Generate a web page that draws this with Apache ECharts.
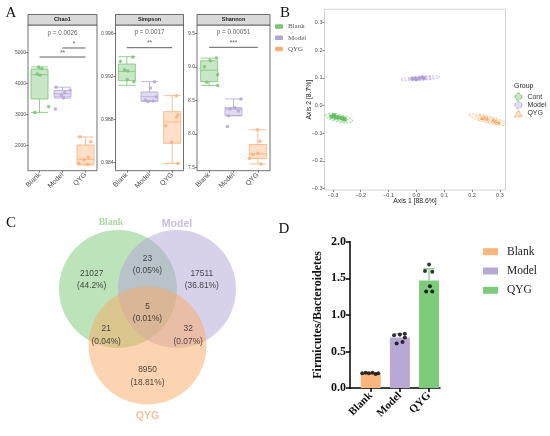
<!DOCTYPE html>
<html><head><meta charset="utf-8">
<script src="https://cdn.jsdelivr.net/npm/echarts@6/dist/echarts.min.js"></script>
<style>html,body{margin:0;padding:0;background:#fff}#c{width:550px;height:436px}</style>
</head><body><div id="c"></div>
<script>
const SANS = 'Liberation Sans, Arial, sans-serif';
const SERIF = 'Liberation Serif, Times New Roman, serif';

// ---------- Panel A : alpha diversity ----------
const groups = ['Blank', 'Model', 'QYG'];
const groupColors = ['#78c474', '#b3a4d8', '#fbb07a'];
const groupFills = ['rgba(120,196,116,0.40)', 'rgba(179,164,216,0.40)', 'rgba(251,176,122,0.40)'];
const facetNames = ['Chao1', 'Simpson', 'Shannon'];
// [min, Q1, median, Q3, max]
const chao1Box = [[3070, 3500, 4280, 4460, 4530], [3530, 3565, 3668, 3775, 3880], [1380, 1412, 1560, 2023, 2280]];
const simpsonBox = [[0.99116, 0.99159, 0.99246, 0.99314, 0.99382], [0.98965, 0.98973, 0.99010, 0.99054, 0.99150], [0.98390, 0.98577, 0.98775, 0.98871, 0.99020]];
const shannonBox = [[8.72, 8.78, 8.95, 9.09, 9.13], [8.27, 8.27, 8.37, 8.39, 8.52], [7.55, 7.63, 7.70, 7.84, 8.06]];
// [value, jitter]
const chao1Pts = [
  [[4530, -0.05], [4480, 0.1], [4300, -0.1], [4260, 0.02], [3250, 0.4], [3070, -0.2]],
  [[3880, -0.28], [3790, 0.33], [3700, 0.1], [3620, -0.05], [3530, 0.05], [3180, -0.31]],
  [[2289, -0.24], [2128, 0.23], [1627, 0.12], [1550, -0.05], [1435, -0.3], [1390, 0.1]]
];
const simpsonPts = [
  [[0.9938, 0.26], [0.9934, -0.28], [0.9926, -0.1], [0.9925, 0.04], [0.9917, 0.02], [0.9915, 0.31]],
  [[0.9915, 0.22], [0.9909, 0.04], [0.9901, 0.3], [0.9898, -0.18], [0.9897, 0.16], [0.98965, -0.07]],
  [[0.9902, 0.19], [0.9884, 0.25], [0.9882, 0.19], [0.9874, -0.28], [0.9859, -0.02], [0.9839, 0.25]]
];
const shannonPts = [
  [[9.13, 0.3], [9.09, 0.05], [9.0, -0.2], [8.88, 0.35], [8.77, -0.1], [8.72, 0.35]],
  [[8.52, 0.31], [8.39, 0.06], [8.37, -0.14], [8.34, 0.2], [8.27, -0.2], [8.11, -0.25]],
  [[8.06, -0.02], [7.89, 0.09], [7.71, 0.0], [7.69, -0.2], [7.63, -0.35], [7.55, 0.13]]
];
const facetMin = [1197, 0.98322, 7.449];
const facetMax = [5877, 0.99677, 9.624];
const facetTicks = [[2000, 3000, 4000, 5000], [0.984, 0.988, 0.992, 0.996], [7.5, 8.0, 8.5, 9.0, 9.5]];
const facetDigits = [0, 3, 1];
const pLabels = ['p = 0.0026', 'p = 0.0017', 'p = 0.00051'];
const pLabelY = [5623, 0.99606, 9.509];
// brackets per facet: [from, to, level, mark]
const sigBrackets = [
  [[1, 2, 5139, '*'], [0, 2, 4848, '**']],
  [[0, 2, 0.99466, '**']],
  [[0, 2, 9.291, '***']]
];

// ---------- Panel B : PCoA ----------
const pcoaGroups = ['Cont', 'Model', 'QYG'];
const pcoaColors = ['#5fba5b', '#ad9bd6', '#f8a45a'];
const pcoaFills = ['rgba(95,186,91,0.12)', 'rgba(173,155,214,0.12)', 'rgba(248,164,90,0.12)'];
const pcoaSymbols = ['rect', 'circle', 'triangle'];
const contPts = [[-0.305, -0.040], [-0.296, -0.036], [-0.29, -0.043], [-0.278, -0.044], [-0.266, -0.046], [-0.258, -0.05]];
const modelPts = [[-0.015, 0.096], [-0.005, 0.097], [0.01, 0.098], [0.02, 0.101], [0.028, 0.099], [0.0, 0.095]];
const qygPts = [[0.235, -0.045], [0.245, -0.043], [0.255, -0.048], [0.275, -0.053], [0.285, -0.057], [0.295, -0.061]];
// [cx, cy, rx, ry, angleDeg, group]
const pcoaEllipses = [
  [-0.278, -0.046, 0.05, 0.014, -12, 0], [-0.278, -0.046, 0.032, 0.009, -12, 0],
  [0.015, 0.098, 0.07, 0.008, 4, 1], [0.015, 0.098, 0.045, 0.005, 4, 1],
  [0.258, -0.051, 0.072, 0.012, -14, 2], [0.258, -0.051, 0.046, 0.008, -14, 2]
];
const pcoaTicks = [-0.3, -0.2, -0.1, 0, 0.1, 0.2, 0.3];

// ---------- Panel C : Venn ----------
const vennSets = ['Blank', 'Model', 'QYG'];
const vennCenters = [[-0.5, 0], [0.5, 0], [0, -0.958]];
const vennRadius = 1;
const vennFills = ['rgba(108,192,104,0.45)', 'rgba(178,164,214,0.50)', 'rgba(252,170,100,0.50)'];
const vennTitleColors = ['#8ed08a', '#b9acd9', '#f7b27a'];
const vennTitlePos = [[-0.62, 1.12], [0.5, 1.10], [0, -2.15]];
const vennCounts = [21027, 23, 17511, 5, 21, 32, 8950];
const vennPcts = ['44.2%', '0.05%', '36.81%', '0.01%', '0.04%', '0.07%', '18.81%'];
const vennLabelPos = [[-0.946, 0.161], [0, 0.415], [0.92, 0.161], [0, -0.40], [-0.70, -0.78], [0.69, -0.78], [0, -1.48]];

// ---------- Panel D : F/B ratio ----------
const barCats = ['Blank', 'Model', 'QYG'];
const barColors = ['#fbb57f', '#b9a7d6', '#7fcb7c'];
const barMeans = [0.20, 0.69, 1.47];
const barSD = [0.01, 0.05, 0.16];
const barDots = [
  [[0.20, -0.29], [0.21, -0.17], [0.20, -0.06], [0.21, 0.06], [0.19, 0.17], [0.20, 0.26]],
  [[0.72, -0.2], [0.73, 0.0], [0.74, 0.17], [0.61, -0.11], [0.63, 0.09], [0.69, 0.17]],
  [[1.69, 0.0], [1.60, -0.14], [1.59, 0.11], [1.39, 0.03], [1.32, -0.1], [1.32, 0.11]]
];

// ---------- layout ----------
const facetLeft = [28, 115.5, 197];
const facetWidth = [69, 68, 73];
const facetBoxes = [chao1Box, simpsonBox, shannonBox];
const facetPts = [chao1Pts, simpsonPts, shannonPts];

const grids = [], xAxes = [], yAxes = [], series = [], graphics = [];
const minusFmt = v => (v < 0 ? '\u2212' : '') + Math.abs(v).toFixed(1);

for (let f = 0; f < 3; f++) {
  grids.push({left: facetLeft[f], top: 25, width: facetWidth[f], height: 145.7, show: true,
    borderColor: '#4d4d4d', borderWidth: 0.8, backgroundColor: '#fff'});
  xAxes.push({type: 'category', gridIndex: f, data: groups,
    axisLine: {show: false, onZero: false},
    axisTick: {show: true, alignWithLabel: true, length: 2, lineStyle: {color: '#333', width: 0.6}},
    axisLabel: {rotate: 45, fontSize: 7, color: '#4d4d4d', margin: 3, fontFamily: SANS},
    splitLine: {show: false}});
  xAxes.push({type: 'value', gridIndex: f, min: -0.5, max: 2.5, show: false, axisLine: {onZero: false}});
  const dg = facetDigits[f];
  yAxes.push({type: 'value', gridIndex: f, min: facetMin[f], max: facetMax[f],
    axisLine: {show: false, onZero: false},
    axisTick: {show: true, length: 2, customValues: facetTicks[f], lineStyle: {color: '#333', width: 0.6}},
    axisLabel: {customValues: facetTicks[f], formatter: v => v.toFixed(dg), fontSize: 5, color: '#4d4d4d', margin: 2, fontFamily: SANS},
    splitLine: {show: false}});
  series.push({type: 'boxplot', xAxisIndex: 2 * f, yAxisIndex: f, boxWidth: [17, 17], silent: true, z: 2,
    data: facetBoxes[f].map((b, i) => ({value: b, itemStyle: {color: groupFills[i], borderColor: groupColors[i], borderWidth: 0.8}}))});
  for (let g = 0; g < 3; g++) {
    series.push({type: 'scatter', name: groups[g], xAxisIndex: 2 * f + 1, yAxisIndex: f, symbolSize: 3.5, silent: true, z: 3,
      itemStyle: {color: groupColors[g], opacity: 0.85},
      data: facetPts[f][g].map(p => [g + p[1], p[0]])});
  }
  sigBrackets[f].forEach(br => {
    series.push({type: 'line', xAxisIndex: 2 * f + 1, yAxisIndex: f, symbol: 'none', silent: true, z: 4,
      lineStyle: {color: '#4d4d4d', width: 0.9}, data: [[br[0], br[2]], [br[1], br[2]]]});
    series.push({type: 'scatter', xAxisIndex: 2 * f + 1, yAxisIndex: f, symbolSize: 1, silent: true, z: 4,
      itemStyle: {color: 'rgba(0,0,0,0)'},
      label: {show: true, position: 'top', distance: 0, formatter: br[3], fontSize: 6.5, color: '#333', fontFamily: SANS},
      data: [[(br[0] + br[1]) / 2, br[2]]]});
  });
  series.push({type: 'scatter', xAxisIndex: 2 * f + 1, yAxisIndex: f, symbolSize: 1, silent: true, z: 4,
    itemStyle: {color: 'rgba(0,0,0,0)'},
    label: {show: true, position: 'inside', formatter: pLabels[f], fontSize: 6.3, color: '#333', fontFamily: SANS},
    data: [[1, pLabelY[f]]]});
  graphics.push({type: 'rect', shape: {x: facetLeft[f], y: 14.5, width: facetWidth[f], height: 10.5},
    style: {fill: '#d9d9d9', stroke: '#4d4d4d', lineWidth: 0.8}, silent: true});
  graphics.push({type: 'text', x: facetLeft[f] + facetWidth[f] / 2, y: 19.8,
    style: {text: facetNames[f], fontSize: 5.5, fontWeight: 'bold', fontFamily: SANS, fill: '#1a1a1a', align: 'center', verticalAlign: 'middle'}});
}

// Panel B grid (index 3)
grids.push({left: 324.5, top: 9.3, width: 181, height: 180.7, show: true, borderColor: '#c8c8c8', borderWidth: 0.8, backgroundColor: '#fff'});
xAxes.push({type: 'value', gridIndex: 3, min: -0.33, max: 0.32,
  axisLine: {show: false, onZero: false},
  axisTick: {show: true, length: 2, customValues: pcoaTicks, lineStyle: {color: '#333', width: 0.6}},
  axisLabel: {customValues: pcoaTicks, formatter: minusFmt, fontSize: 5.5, color: '#4d4d4d', margin: 2, fontFamily: SANS},
  splitLine: {show: false},
  name: 'Axis 1 [88.6%]', nameLocation: 'middle', nameGap: 8, nameMoveOverlap: false,
  nameTextStyle: {fontSize: 6.8, color: '#222', fontFamily: SANS}});
yAxes.push({type: 'value', gridIndex: 3, min: -0.305, max: 0.347,
  axisLine: {show: false, onZero: false},
  axisTick: {show: true, length: 2, customValues: pcoaTicks, lineStyle: {color: '#333', width: 0.6}},
  axisLabel: {customValues: pcoaTicks, formatter: minusFmt, fontSize: 5.5, color: '#4d4d4d', margin: 2, fontFamily: SANS},
  splitLine: {show: false},
  name: 'Axis 2 [8.7%]', nameLocation: 'middle', nameGap: 12, nameMoveOverlap: false,
  nameTextStyle: {fontSize: 6.8, color: '#222', fontFamily: SANS}});
series.push({type: 'custom', xAxisIndex: 6, yAxisIndex: 3, clip: true, silent: true, z: 2,
  data: pcoaEllipses,
  renderItem: function (params, api) {
    const c = api.coord([api.value(0), api.value(1)]);
    const rx = api.size([api.value(2), 0])[0];
    const ry = api.size([0, api.value(3)])[1];
    const g = api.value(5);
    return {type: 'ellipse', x: c[0], y: c[1], rotation: api.value(4) * Math.PI / 180,
      shape: {cx: 0, cy: 0, rx: rx, ry: ry},
      style: {fill: pcoaFills[g], stroke: pcoaColors[g], lineWidth: 0.7, lineDash: [2, 1.5], opacity: 0.8}};
  }});
[contPts, modelPts, qygPts].forEach((pts, g) => {
  series.push({type: 'scatter', name: pcoaGroups[g], xAxisIndex: 6, yAxisIndex: 3, symbol: pcoaSymbols[g], symbolSize: 4, silent: true, z: 3,
    itemStyle: {color: pcoaColors[g], opacity: 0.9}, data: pts});
});
graphics.push({type: 'text', x: 514, y: 86, style: {text: 'Group', fontSize: 7, fontFamily: SANS, fill: '#222', verticalAlign: 'middle'}});

// Panel C grid (index 4)
grids.push({left: 41.3, top: 206.4, width: 212.4, height: 212.4, show: false});
xAxes.push({type: 'value', gridIndex: 4, min: -1.8, max: 1.8, show: false, axisLine: {onZero: false}});
yAxes.push({type: 'value', gridIndex: 4, min: -2.2, max: 1.4, show: false, axisLine: {onZero: false}});
series.push({type: 'custom', xAxisIndex: 7, yAxisIndex: 4, silent: true, z: 2,
  data: vennCenters.map((c, i) => [c[0], c[1], i]),
  renderItem: function (params, api) {
    const c = api.coord([api.value(0), api.value(1)]);
    const r = api.size([vennRadius, 0])[0];
    return {type: 'circle', shape: {cx: c[0], cy: c[1], r: r}, style: {fill: vennFills[api.value(2)]}};
  }});
series.push({type: 'scatter', xAxisIndex: 7, yAxisIndex: 4, symbolSize: 1, silent: true, z: 5,
  itemStyle: {color: 'rgba(0,0,0,0)'},
  label: {show: true, position: 'inside', fontSize: 8.4, lineHeight: 12.4, color: '#222', fontFamily: SANS},
  data: vennLabelPos.map((p, i) => ({value: p, label: {formatter: vennCounts[i] + '\n(' + vennPcts[i] + ')'}}))});
series.push({type: 'scatter', xAxisIndex: 7, yAxisIndex: 4, symbolSize: 1, silent: true, z: 5,
  itemStyle: {color: 'rgba(0,0,0,0)'},
  data: vennTitlePos.map((p, i) => ({value: p, label: {show: true, position: 'inside', formatter: vennSets[i],
    color: vennTitleColors[i], fontWeight: 'bold', fontSize: i === 0 ? 9.5 : 10.5, fontFamily: i === 0 ? SERIF : SANS}}))});

// Panel D grid (index 5)
grids.push({left: 350, top: 241.7, width: 90, height: 146.3, show: false});
xAxes.push({type: 'value', gridIndex: 5, min: -0.71, max: 2.375,
  axisLine: {show: true, onZero: false, lineStyle: {color: '#000', width: 1.5}},
  axisTick: {show: true, customValues: [0, 1, 2], length: 4, lineStyle: {color: '#000', width: 1.5}},
  axisLabel: {customValues: [0, 1, 2], formatter: v => barCats[Math.round(v)], rotate: 45, fontFamily: SERIF, fontWeight: 'bold', fontSize: 11, color: '#111', margin: 6},
  splitLine: {show: false}});
yAxes.push({type: 'value', gridIndex: 5, min: 0, max: 2, interval: 0.5,
  axisLine: {show: true, onZero: false, lineStyle: {color: '#000', width: 1.5}},
  axisTick: {show: true, length: 4, lineStyle: {color: '#000', width: 1.5}},
  axisLabel: {formatter: v => v.toFixed(1), fontFamily: SERIF, fontWeight: 'bold', fontSize: 12, color: '#111', margin: 4},
  splitLine: {show: false},
  name: 'Firmicutes/Bacteroidetes', nameLocation: 'middle', nameGap: 26, nameMoveOverlap: false,
  nameTextStyle: {fontFamily: SERIF, fontWeight: 'bold', fontSize: 12, color: '#111'}});
series.push({type: 'custom', xAxisIndex: 8, yAxisIndex: 5, silent: true, z: 1,
  data: barMeans.map((m, i) => [i, m, barSD[i], i]),
  renderItem: function (params, api) {
    const i = api.value(0), m = api.value(1), sd = api.value(2);
    const base = api.coord([i, m]), top = api.coord([i, m + sd]);
    const col = barColors[api.value(3)];
    return {type: 'group', children: [
      {type: 'line', shape: {x1: base[0], y1: base[1], x2: top[0], y2: top[1]}, style: {stroke: col, lineWidth: 1.3}},
      {type: 'line', shape: {x1: top[0] - 5.5, y1: top[1], x2: top[0] + 5.5, y2: top[1]}, style: {stroke: col, lineWidth: 1.3}}
    ]};
  }});
series.push({type: 'bar', xAxisIndex: 8, yAxisIndex: 5, barWidth: 20, silent: true, z: 2,
  data: barMeans.map((v, i) => ({value: [i, v], itemStyle: {color: barColors[i]}}))});
series.push({type: 'scatter', xAxisIndex: 8, yAxisIndex: 5, symbolSize: 4, silent: true, z: 3,
  itemStyle: {color: '#000'},
  data: barDots.flatMap((pts, g) => pts.map(p => [g + p[1], p[0]]))});

// panel letters
[['A', 11, 13], ['B', 285, 13], ['C', 11, 223], ['D', 284, 229]].forEach(l => {
  graphics.push({type: 'text', x: l[1], y: l[2], style: {text: l[0], fontSize: 15, fontFamily: SERIF, fill: '#111', align: 'center', verticalAlign: 'middle'}});
});

const option = {
  animation: false,
  backgroundColor: '#fff',
  grid: grids, xAxis: xAxes, yAxis: yAxes, series: series, graphic: graphics,
  legend: [
    {left: 275, top: 22.5, padding: 0, orient: 'vertical', selectedMode: false, itemWidth: 8, itemHeight: 4.5, itemGap: 3.3, icon: 'roundRect',
      textStyle: {fontFamily: SERIF, fontSize: 7, color: '#555', lineHeight: 8},
      data: groups.map((n, i) => ({name: n, itemStyle: {color: groupColors[i], opacity: 1}}))},
    {left: 514, top: 92.7, padding: 0, orient: 'vertical', selectedMode: false, itemWidth: 8, itemHeight: 7, itemGap: 0.3,
      textStyle: {fontFamily: SANS, fontSize: 7, color: '#333', lineHeight: 8},
      data: pcoaGroups.map((n, i) => ({name: n, icon: pcoaSymbols[i] === 'triangle' ? 'triangle' : 'circle',
        itemStyle: {color: pcoaFills[i].replace('0.12', '0.35'), borderColor: pcoaColors[i], borderWidth: 0.8, borderType: 'dashed', opacity: 1}}))},
    {left: 483, top: 245.2, padding: 0, orient: 'vertical', selectedMode: false, itemWidth: 15, itemHeight: 7, itemGap: 6.3, icon: 'rect',
      textStyle: {fontFamily: SERIF, fontSize: 11.5, color: '#222', lineHeight: 13, padding: [0, 0, 0, 4]},
      data: barCats.map((n, i) => ({name: n, itemStyle: {color: barColors[i], opacity: 1}}))}
  ]
};
const chart = echarts.init(document.getElementById('c'));
chart.setOption(option);
</script>
</body></html>
